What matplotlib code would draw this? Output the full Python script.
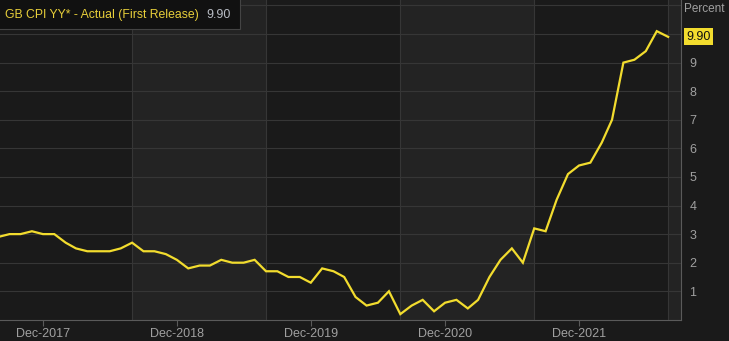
import matplotlib

matplotlib.use("Agg")
import matplotlib.pyplot as plt
import pandas as pd

plt.rcParams["font.family"] = ["Liberation Sans", "DejaVu Sans"]

BG_DARK = "#1a1a1a"
BG_BAND = "#232323"
GRID = "#363636"
SPINE = "#5a5a5a"
INK = "#a0a0a0"
YELLOW = "#f2dc2e"

START_MONTH = "2017-08"
CPI = [
    2.9, 3.0, 3.0, 3.1, 3.0,                                    # Aug-Dec 2017
    3.0, 2.7, 2.5, 2.4, 2.4, 2.4, 2.5, 2.7, 2.4, 2.4, 2.3, 2.1,  # 2018
    1.8, 1.9, 1.9, 2.1, 2.0, 2.0, 2.1, 1.7, 1.7, 1.5, 1.5, 1.3,  # 2019
    1.8, 1.7, 1.5, 0.8, 0.5, 0.6, 1.0, 0.2, 0.5, 0.7, 0.3, 0.6,  # 2020
    0.7, 0.4, 0.7, 1.5, 2.1, 2.5, 2.0, 3.2, 3.1, 4.2, 5.1, 5.4,  # 2021
    5.5, 6.2, 7.0, 9.0, 9.1, 9.4, 10.1, 9.9,                      # Jan-Aug 2022
]
TICK_DATES = ["2017-12-01", "2018-12-01", "2019-12-01", "2020-12-01", "2021-12-01"]
TICK_LABELS = ["Dec-2017", "Dec-2018", "Dec-2019", "Dec-2020", "Dec-2021"]
BAND_EDGES = ["2018-08-01", "2019-08-01", "2020-08-01", "2021-08-01", "2022-08-01"]
Y_TICKS = [1, 2, 3, 4, 5, 6, 7, 8, 9]
LAST_VALUE = "9.90"
TITLE = "GB CPI YY* - Actual (First Release)"

dates = pd.date_range(START_MONTH, periods=len(CPI), freq="MS")
x_left = pd.Timestamp("2017-08-06")
x_right = pd.Timestamp("2022-09-05")

fig = plt.figure(figsize=(7.29, 3.41), dpi=100, facecolor=BG_DARK)
ax = fig.add_axes([0.0, 0.062, 681 / 729, 0.938])
ax.set_facecolor(BG_DARK)

# alternating yearly bands, starting each August
edges = [pd.Timestamp(d) for d in BAND_EDGES] + [x_right]
for i in range(0, len(edges) - 1, 2):
    ax.axvspan(edges[i], edges[i + 1], color=BG_BAND, lw=0, zorder=0)
for e in edges[:-1]:
    ax.axvline(e, color=GRID, lw=0.8, zorder=1)

for y in Y_TICKS + [10, 11]:
    ax.axhline(y, color=GRID, lw=0.8, zorder=1)

ax.plot(dates, CPI, color=YELLOW, lw=1.6, zorder=3, solid_joinstyle="miter")

ax.set_xlim(x_left, x_right)
ax.set_ylim(0, 11.19)

ax.yaxis.tick_right()
ax.set_yticks(Y_TICKS)
ax.tick_params(axis="y", length=0, pad=6, colors=INK, labelsize=9)
ax.set_xticks([pd.Timestamp(d) for d in TICK_DATES])
ax.set_xticklabels(TICK_LABELS)
ax.tick_params(axis="x", length=4, width=0.8, color=SPINE, colors=INK, labelsize=9, pad=2)

for s in ("top", "left"):
    ax.spines[s].set_visible(False)
ax.spines["bottom"].set_color(SPINE)
ax.spines["right"].set_color(SPINE)
ax.spines["bottom"].set_linewidth(0.8)
ax.spines["right"].set_linewidth(0.8)

ax.text(1.004, 0.992, "Percent", transform=ax.transAxes, ha="left", va="top",
        color=INK, fontsize=8.5)

ax.annotate(LAST_VALUE, xy=(1.0, CPI[-1]), xycoords=("axes fraction", "data"),
            xytext=(4, 0), textcoords="offset points", ha="left", va="center",
            fontsize=9, color="#111111",
            bbox=dict(boxstyle="square,pad=0.2", fc=YELLOW, ec="none"))

# title box in the top left, value placed just after the title text
fig.patches.append(plt.Rectangle((-0.01, 1 - 29 / 341), 247 / 729, 0.2,
                                 transform=fig.transFigure, fc="#111111",
                                 ec="#444444", lw=0.8, zorder=5))
title = fig.text(5 / 729, 1 - 15 / 341, TITLE, color="#e8cf3a", fontsize=8.8,
                 ha="left", va="center", zorder=6)
fig.canvas.draw()
x1 = title.get_window_extent().x1
fig.text((x1 + 8) / 729, 1 - 15 / 341, LAST_VALUE, color="#b8bcc4", fontsize=9,
         ha="left", va="center", zorder=6)

fig.savefig("out.png", dpi=100, facecolor=BG_DARK)
